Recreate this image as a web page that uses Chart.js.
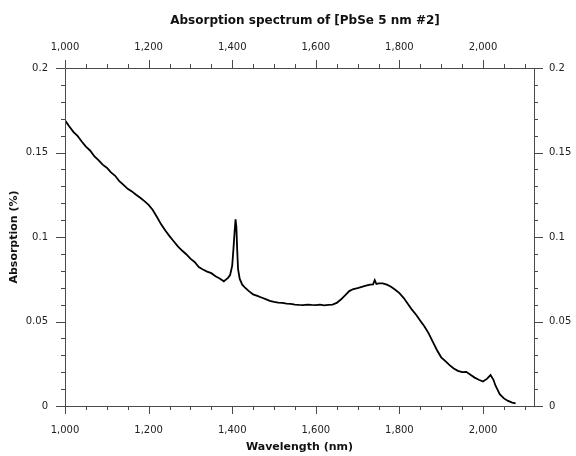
<!DOCTYPE html>
<html>
<head>
<meta charset="utf-8">
<script src="https://cdn.jsdelivr.net/npm/chart.js@4"></script>
<style>
html,body{margin:0;padding:0;background:#fff;}
#wrap{width:576px;height:456px;position:relative;}
</style>
</head>
<body>
<div id="wrap"><canvas id="c" width="576" height="456"></canvas></div>
<script>
const chartTitle = 'Absorption spectrum of [PbSe 5 nm #2]';
const xTitle = 'Wavelength (nm)';
const yTitle = 'Absorption (%)';

const wavelength = [
  1000,1010,1020,1030,1040,1050,1060,1070,1080,1090,
  1100,1110,1120,1130,1140,1150,1160,1170,1180,1190,
  1200,1210,1220,1230,1240,1250,1260,1270,1280,1290,
  1300,1310,1320,1330,1340,1350,1360,1370,1380,1385,
  1390,1395,1400,1403,1406,1408,1410,1412,1414,1418,
  1424,1430,1440,1450,1460,1470,1480,1490,1500,1510,
  1520,1530,1540,1550,1560,1570,1580,1590,1600,1610,
  1620,1630,1640,1650,1660,1670,1680,1690,1700,1710,
  1720,1730,1737,1741,1745,1750,1760,1770,1780,1790,
  1800,1810,1820,1830,1840,1850,1860,1870,1880,1890,
  1900,1910,1920,1930,1940,1950,1960,1970,1980,1990,
  2000,2010,2018,2025,2030,2035,2040,2050,2060,2070,2078
];
const absorption = [
  0.1690,0.1655,0.1622,0.1598,0.1565,0.1535,0.1512,0.1478,0.1455,0.1428,
  0.1410,0.1382,0.1362,0.1330,0.1308,0.1285,0.1270,0.1250,0.1232,0.1212,
  0.1190,0.1160,0.1118,0.1075,0.1038,0.1005,0.0975,0.0945,0.0920,0.0898,
  0.0872,0.0852,0.0822,0.0808,0.0795,0.0786,0.0768,0.0755,0.0738,0.0748,
  0.0758,0.0775,0.0830,0.0930,0.1040,0.1105,0.1060,0.0920,0.0810,0.0752,
  0.0718,0.0702,0.0680,0.0660,0.0652,0.0642,0.0632,0.0622,0.0616,0.0612,
  0.0610,0.0606,0.0604,0.0600,0.0598,0.0597,0.0600,0.0598,0.0597,0.0600,
  0.0596,0.0598,0.0600,0.0610,0.0630,0.0655,0.0680,0.0692,0.0698,0.0705,
  0.0712,0.0718,0.0720,0.0745,0.0722,0.0726,0.0726,0.0718,0.0706,0.0688,
  0.0668,0.0640,0.0605,0.0570,0.0540,0.0505,0.0470,0.0430,0.0380,0.0330,
  0.0288,0.0265,0.0242,0.0222,0.0208,0.0200,0.0202,0.0185,0.0168,0.0155,
  0.0145,0.0162,0.0183,0.0155,0.0120,0.0095,0.0070,0.0045,0.0030,0.0020,0.0015
];

const xMin = 1000, xMax = 2122, xMajor = 200, xMinor = 50;
const yMin = 0, yMax = 0.2, yMajor = 0.05, yMinor = 0.01;

const points = wavelength.map((w, i) => ({x: w, y: absorption[i]}));
const fmtX = v => v.toLocaleString('en-US');
const fmtY = v => String(Math.round(v * 100) / 100);
const keepMajorX = s => { s.ticks = s.ticks.filter(t => Math.abs(t.value % xMajor) < 1e-6); };

const axisColor = '#4a4a4a';
const textColor = '#222';
const tickFont = {family: 'DejaVu Sans', size: 10};

const framePlugin = {
  id: 'frame',
  afterDraw(chart) {
    const ctx = chart.ctx;
    const a = chart.chartArea;
    const xs = chart.scales.x, ys = chart.scales.y;
    ctx.save();
    ctx.strokeStyle = axisColor;
    ctx.lineWidth = 1;
    ctx.beginPath();
    ctx.rect(Math.round(a.left) + 0.5, Math.round(a.top) + 0.5,
             Math.round(a.right - a.left), Math.round(a.bottom - a.top));
    ctx.stroke();
    ctx.beginPath();
    for (let v = xMin; v <= xMax + 1e-9; v += xMinor) {
      const px = Math.round(xs.getPixelForValue(v)) + 0.5;
      const major = Math.abs(v % xMajor) < 1e-6;
      const len = major ? 8 : 4;
      ctx.moveTo(px, a.bottom); ctx.lineTo(px, a.bottom + len);
      ctx.moveTo(px, a.top); ctx.lineTo(px, a.top - len);
    }
    for (let k = 0; k <= Math.round((yMax - yMin) / yMinor); k++) {
      const v = yMin + k * yMinor;
      const py = Math.round(ys.getPixelForValue(v)) + 0.5;
      const major = k % 5 === 0;
      const len = major ? 9 : 4;
      ctx.moveTo(a.left, py); ctx.lineTo(a.left - len, py);
      ctx.moveTo(a.right, py); ctx.lineTo(a.right + len, py);
    }
    ctx.stroke();
    ctx.fillStyle = '#111';
    ctx.font = 'bold 12px "DejaVu Sans"';
    ctx.textAlign = 'center';
    ctx.textBaseline = 'middle';
    ctx.fillText(chartTitle, 305, 21);
    ctx.restore();
  }
};

new Chart(document.getElementById('c'), {
  type: 'line',
  data: {
    datasets: [{
      data: points,
      borderColor: '#000',
      borderWidth: 1.8,
      pointRadius: 0,
      tension: 0,
      fill: false
    }]
  },
  options: {
    responsive: false,
    animation: false,
    layout: {padding: 0},
    plugins: {legend: {display: false}, tooltip: {enabled: false}},
    scales: {
      x: {
        type: 'linear', position: 'bottom', min: xMin, max: xMax,
        grid: {display: false, drawTicks: false}, border: {display: false},
        afterBuildTicks: keepMajorX,
        ticks: {stepSize: xMajor, callback: v => fmtX(v), font: tickFont, color: textColor, padding: 18, maxRotation: 0, autoSkip: false},
        title: {display: true, text: xTitle, font: {family: 'DejaVu Sans', size: 11, weight: 'bold'}, color: '#111', padding: {top: 0, bottom: 2}},
        afterFit: s => { s.height = 50; }
      },
      x2: {
        type: 'linear', position: 'top', min: xMin, max: xMax,
        grid: {display: false, drawTicks: false}, border: {display: false},
        afterBuildTicks: keepMajorX,
        ticks: {stepSize: xMajor, callback: v => fmtX(v), font: tickFont, color: textColor, padding: 15, maxRotation: 0, autoSkip: false},
        afterFit: s => { s.height = 68; }
      },
      y: {
        type: 'linear', position: 'left', min: yMin, max: yMax,
        grid: {display: false, drawTicks: false}, border: {display: false},
        ticks: {stepSize: yMajor, callback: v => fmtY(v), font: tickFont, color: textColor, padding: 17},
        title: {display: true, text: yTitle, font: {family: 'DejaVu Sans', size: 11, weight: 'bold'}, color: '#111', padding: {top: 8, bottom: 0}},
        afterFit: s => { s.width = 65; }
      },
      y2: {
        type: 'linear', position: 'right', min: yMin, max: yMax,
        grid: {display: false, drawTicks: false}, border: {display: false},
        ticks: {stepSize: yMajor, callback: v => fmtY(v), font: tickFont, color: textColor, padding: 15},
        afterFit: s => { s.width = 42; }
      }
    }
  },
  plugins: [framePlugin]
});
</script>
</body>
</html>
